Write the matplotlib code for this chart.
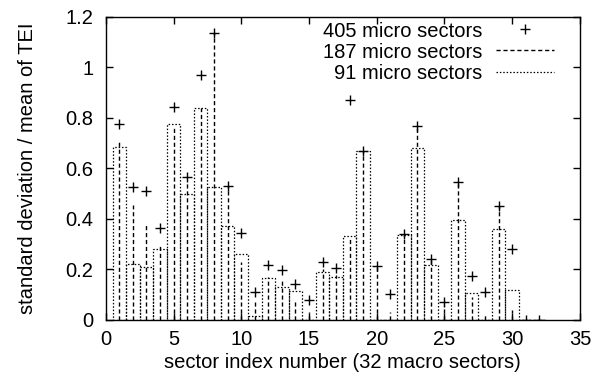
import matplotlib
matplotlib.use("Agg")
import matplotlib.pyplot as plt
from matplotlib.lines import Line2D
import numpy as np

plt.rcParams["font.family"] = ["Liberation Sans", "DejaVu Sans"]
plt.rcParams["font.size"] = 14.5

# sector index 1..32
sectors = np.arange(1, 33)

# 405 micro sectors (points)
micro_405 = [0.775, 0.528, 0.51, 0.366, 0.845, 0.567, 0.97, 1.135,
             0.53, 0.343, 0.112, 0.218, 0.197, 0.143, 0.079, 0.228,
             0.207, 0.873, 0.668, 0.214, 0.103, 0.34, 0.767, 0.24,
             0.07, 0.545, 0.174, 0.112, 0.451, 0.28, 0.0, 0.0]

# 187 micro sectors (impulses)
micro_187 = [0.71, 0.456, 0.386, 0.30, 0.76, 0.55, 0.84, 1.135,
             0.53, 0.23, 0.07, 0.17, 0.16, 0.07, 0.03, 0.20,
             0.18, 0.33, 0.67, 0.214, 0.03, 0.34, 0.77, 0.24,
             0.06, 0.55, 0.09, 0.02, 0.45, 0.04, 0.0, 0.0]

# 91 micro sectors (boxes)
micro_91 = [0.686, 0.22, 0.209, 0.28, 0.775, 0.498, 0.84, 0.528,
            0.374, 0.26, 0.017, 0.165, 0.132, 0.115, 0.0, 0.189,
            0.172, 0.333, 0.67, 0.0, 0.0, 0.337, 0.68, 0.218,
            0.0, 0.397, 0.106, 0.0, 0.362, 0.119, 0.0, 0.0]

labels = ["405 micro sectors", "187 micro sectors", "91 micro sectors"]

dash = (0, (3, 2))
dot = (0, (1.2, 1.5))

fig = plt.figure(figsize=(6.01, 3.75), dpi=100)
ax = fig.add_axes([0.176, 0.1467, 0.789, 0.808])

ax.plot(sectors, micro_405, linestyle="none", marker="+", markersize=7,
        markeredgewidth=1.0, color="black")
ax.vlines(sectors, 0, micro_187, colors="black", linewidth=1.0,
          linestyles=dash)
ax.bar(sectors, micro_91, width=1.0, fill=False, edgecolor="black",
       linewidth=0.9, linestyle=dot)

ax.set_xlim(0, 35)
ax.set_ylim(0, 1.2)
ax.set_xticks(np.arange(0, 36, 5))
ax.set_yticks([0, 0.2, 0.4, 0.6, 0.8, 1.0, 1.2])
ax.set_yticklabels(["0", "0.2", "0.4", "0.6", "0.8", "1", "1.2"])
ax.tick_params(direction="in", length=5, width=1, top=True, right=True)
ax.tick_params(axis="x", pad=7)
ax.tick_params(axis="y", pad=9)
for sp in ax.spines.values():
    sp.set_linewidth(1.0)

ax.set_xlabel("sector index number (32 macro sectors)", labelpad=3)
ax.set_ylabel("standard deviation / mean of TEI", labelpad=20)

# gnuplot style key: right-aligned text, sample on the right
h_pts = Line2D([], [], linestyle="none", marker="+", markersize=7,
               markeredgewidth=1.0, color="black")
h_imp = Line2D([], [], color="black", linewidth=1.0, linestyle=dash)
h_box = Line2D([], [], color="black", linewidth=0.9, linestyle=dot)
ax.legend([h_pts, h_imp, h_box], labels,
          loc="upper right", bbox_to_anchor=(0.945, 0.985), borderaxespad=0,
          borderpad=0, frameon=False, markerfirst=False, handlelength=2.85,
          handletextpad=0.7, labelspacing=0.1)

fig.savefig("out.png", dpi=100)
